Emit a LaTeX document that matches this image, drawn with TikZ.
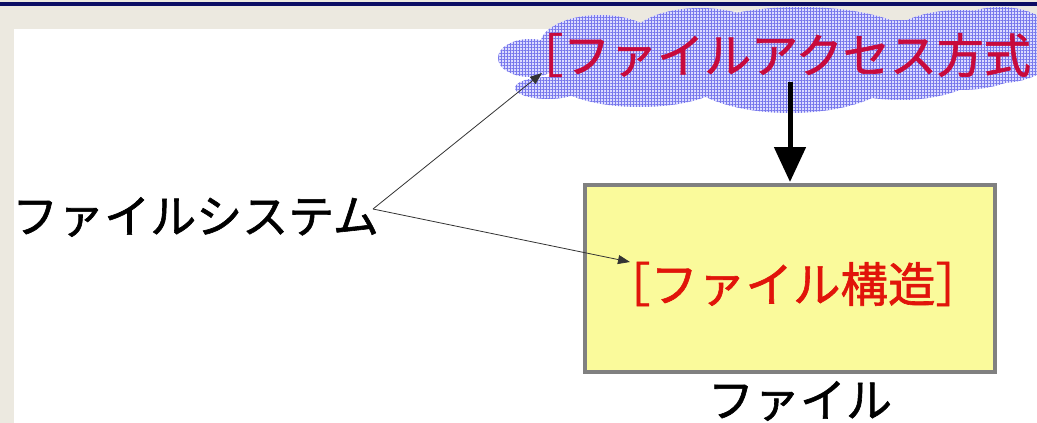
\documentclass[tikz,border=0pt]{standalone}
\usepackage{fontspec}
\newfontfamily\jp{Noto Sans CJK JP}[FakeBold=1.3]
\usetikzlibrary{arrows.meta,patterns.meta}
\definecolor{navybar}{RGB}{12,14,100}
\definecolor{beige}{RGB}{236,233,224}
\definecolor{cloudbg}{RGB}{220,220,255}
\definecolor{cloudgrid}{RGB}{120,120,236}
\definecolor{crimsontxt}{RGB}{200,10,60}
\definecolor{redtxt}{RGB}{225,20,10}
\definecolor{boxfill}{RGB}{250,250,155}
\definecolor{boxline}{RGB}{128,128,128}
\tikzset{
  jptext/.style={inner sep=0pt, font=\jp\fontsize{46}{50}\selectfont},
  thinarrow/.style={draw=black!80, line width=0.8pt, -{Triangle[length=12pt,width=9pt]}},
  thickarrow/.style={draw=black, line width=5pt, -{Triangle[length=35pt,width=31pt]}},
  filebox/.style={draw=boxline, line width=4pt, fill=boxfill, minimum width=410pt, minimum height=187pt, inner sep=0pt},
}
\begin{document}
\begin{tikzpicture}[x=1pt,y=1pt]
\useasboundingbox (0,0) rectangle (1037,-423);
% background
\fill[white] (0,0) rectangle (1037,-423);
\fill[beige] (0,0) rectangle (1037,-29);
\fill[beige] (0,0) rectangle (14,-423);
\fill[navybar] (0,-1.5) rectangle (1037,-5.5);
% cloud
\begin{scope}
\clip (0,-6) rectangle (1037,-423);
\path[fill=cloudbg]
  (530,-58) ellipse [x radius=32, y radius=19]
  (548,-88) ellipse [x radius=33, y radius=11]
  (600,-45) ellipse [x radius=60, y radius=30]
  (640,-75) ellipse [x radius=90, y radius=32]
  (700,-40) ellipse [x radius=70, y radius=32]
  (790,-68) ellipse [x radius=110, y radius=45]
  (800,-45) ellipse [x radius=120, y radius=38]
  (900,-60) ellipse [x radius=90, y radius=40]
  (960,-50) ellipse [x radius=80, y radius=40]
  (1000,-45) ellipse [x radius=60, y radius=38];
\path[pattern={Hatch[distance=3pt,angle=0,line width=1pt]}, pattern color=cloudgrid]
  (530,-58) ellipse [x radius=32, y radius=19]
  (548,-88) ellipse [x radius=33, y radius=11]
  (600,-45) ellipse [x radius=60, y radius=30]
  (640,-75) ellipse [x radius=90, y radius=32]
  (700,-40) ellipse [x radius=70, y radius=32]
  (790,-68) ellipse [x radius=110, y radius=45]
  (800,-45) ellipse [x radius=120, y radius=38]
  (900,-60) ellipse [x radius=90, y radius=40]
  (960,-50) ellipse [x radius=80, y radius=40]
  (1000,-45) ellipse [x radius=60, y radius=38];
\end{scope}
% nodes
\node[jptext, text=crimsontxt, anchor=west, font=\jp\fontsize{47}{52}\selectfont] (access) at (516,-55) {［ファイルアクセス方式};
\node[filebox] (box) at (790,-278) {};
\node[jptext, text=redtxt, font=\jp\fontsize{47.5}{52}\selectfont] (struct) at (793,-284) {［ファイル構造］};
\node[jptext, anchor=west] (fs) at (12,-217) {ファイルシステム};
\node[jptext] (filelabel) at (800,-401) {ファイル};
% connector end points
\coordinate (fsend) at (373,-209);
\coordinate (cloudtip) at (542,-73);
\coordinate (structtip) at (630,-262);
\coordinate (accessbottom) at (790,-82);
\coordinate (boxtop) at (790,-182);
% connectors
\draw[thinarrow] (fsend) -- (cloudtip);
\draw[thinarrow] (fsend) -- (structtip);
\draw[thickarrow] (accessbottom) -- (boxtop);
\end{tikzpicture}
\end{document}
